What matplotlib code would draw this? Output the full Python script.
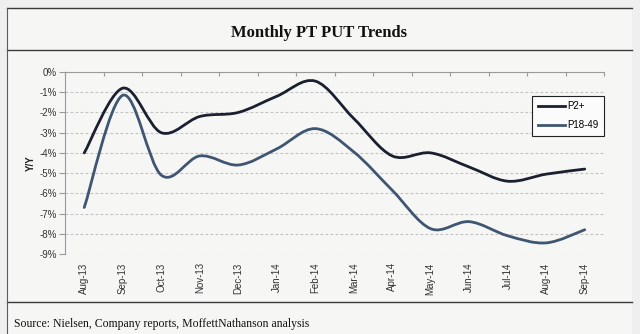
import matplotlib
matplotlib.use("Agg")
import matplotlib.pyplot as plt
from matplotlib.path import Path
from matplotlib.patches import PathPatch, Rectangle
from matplotlib.lines import Line2D
import numpy as np

months = ["Aug-13", "Sep-13", "Oct-13", "Nov-13", "Dec-13", "Jan-14", "Feb-14",
          "Mar-14", "Apr-14", "May-14", "Jun-14", "Jul-14", "Aug-14", "Sep-14"]
p2_plus = [-4.0, -0.8, -3.0, -2.2, -2.0, -1.2, -0.45, -2.3, -4.15, -4.0, -4.7, -5.4, -5.05, -4.8]
p18_49 = [-6.7, -1.15, -5.1, -4.15, -4.6, -3.8, -2.8, -3.95, -5.85, -7.75, -7.4, -8.1, -8.45, -7.8]
y_ticks = [0, -1, -2, -3, -4, -5, -6, -7, -8, -9]

title = "Monthly PT PUT Trends"
source = "Source: Nielsen, Company reports, MoffettNathanson analysis"

SANS = "Liberation Sans"
SERIF = "Liberation Serif"

fig = plt.figure(figsize=(6.4, 3.34), dpi=100)
fig.patch.set_facecolor("#efefef")

W, H = 640.0, 334.0
def fx(px): return px / W
def fy(py): return 1 - py / H

# panel
fig.add_artist(Rectangle((fx(7), 0), fx(632) - fx(7), fy(8), transform=fig.transFigure,
                         facecolor="#f6f6f5", edgecolor="none", zorder=-5))
for yy in (8, 50, 302):
    fig.add_artist(Line2D([fx(7), fx(632)], [fy(yy), fy(yy)], transform=fig.transFigure,
                          color="#3a3a3a", lw=1.0, zorder=-4))
fig.add_artist(Line2D([fx(7), fx(7)], [fy(8), 0], transform=fig.transFigure,
                      color="#5a5a5a", lw=0.8, zorder=-4))

fig.text(fx(319), fy(33), title, ha="center", va="center", fontsize=12,
         fontweight="bold", family=SERIF, color="#111111")
fig.text(fx(14), fy(324), source, ha="left", va="center", fontsize=8.5,
         family=SERIF, color="#111111")

ax = fig.add_axes([fx(65), fy(254), fx(604) - fx(65), fy(72) - fy(254)], zorder=2)
ax.set_facecolor("none")

x = np.arange(len(months))
ax.set_xlim(-0.5, len(months) - 0.5)
ax.set_ylim(-9, 0)

def smooth_path(xs, ys):
    pts = np.column_stack([xs, ys]).astype(float)
    n = len(pts)
    verts = [pts[0]]
    codes = [Path.MOVETO]
    for i in range(n - 1):
        p0 = pts[i - 1] if i > 0 else pts[i]
        p1 = pts[i]
        p2 = pts[i + 1]
        p3 = pts[i + 2] if i + 2 < n else pts[i + 1]
        c1 = p1 + (p2 - p0) / 6.0
        c2 = p2 - (p3 - p1) / 6.0
        verts += [c1, c2, p2]
        codes += [Path.CURVE4] * 3
    return Path(verts, codes)

series = [("P2+", p2_plus, "#1b2030"), ("P18-49", p18_49, "#3f5672")]
handles = []
for name, vals, col in series:
    patch = PathPatch(smooth_path(x, vals), facecolor="none", edgecolor=col, lw=2.0,
                      capstyle="round", joinstyle="round", zorder=3)
    ax.add_patch(patch)
    handles.append(Line2D([], [], color=col, lw=2.0, label=name))

# grid
ax.set_yticks(y_ticks)
ax.set_yticklabels([f"{v}%" for v in y_ticks], family=SANS, fontsize=7, color="#333333")
for v in y_ticks:
    if v != 0:
        ax.axhline(v, color="#c2c2c2", lw=0.8, ls=(0, (2.5, 2)), zorder=1)

for s in ("right", "bottom"):
    ax.spines[s].set_visible(False)
ax.spines["left"].set_color("#9a9a9a")
ax.spines["top"].set_color("#9a9a9a")
ax.spines["left"].set_linewidth(0.8)
ax.spines["top"].set_linewidth(0.8)
ax.tick_params(axis="y", length=4, width=0.8, color="#9a9a9a", pad=2)

ax.set_xticks(x)
ax.set_xticklabels(months, rotation=90, family=SANS, fontsize=7, color="#333333")
ax.tick_params(axis="x", which="major", length=0, pad=6)
ax.set_xticks(np.arange(len(months) + 1) - 0.5, minor=True)
ax.tick_params(axis="x", which="minor", top=True, bottom=False, direction="in",
               length=3, width=0.8, color="#9a9a9a")

ax.set_ylabel("Y/Y", family=SANS, fontsize=7, fontweight="bold", color="#222222", labelpad=2)

leg = ax.legend(handles=handles, loc="upper right", bbox_to_anchor=(1.0, 0.87),
                prop={"family": SANS, "size": 7}, frameon=True, fancybox=False,
                edgecolor="#222222", facecolor="#fbfbfb", framealpha=1,
                handlelength=2.8, handletextpad=0.2, borderpad=0.6, labelspacing=0.9,
                borderaxespad=0)
leg.get_frame().set_linewidth(0.8)

fig.savefig("out.png", dpi=100, facecolor=fig.get_facecolor())
